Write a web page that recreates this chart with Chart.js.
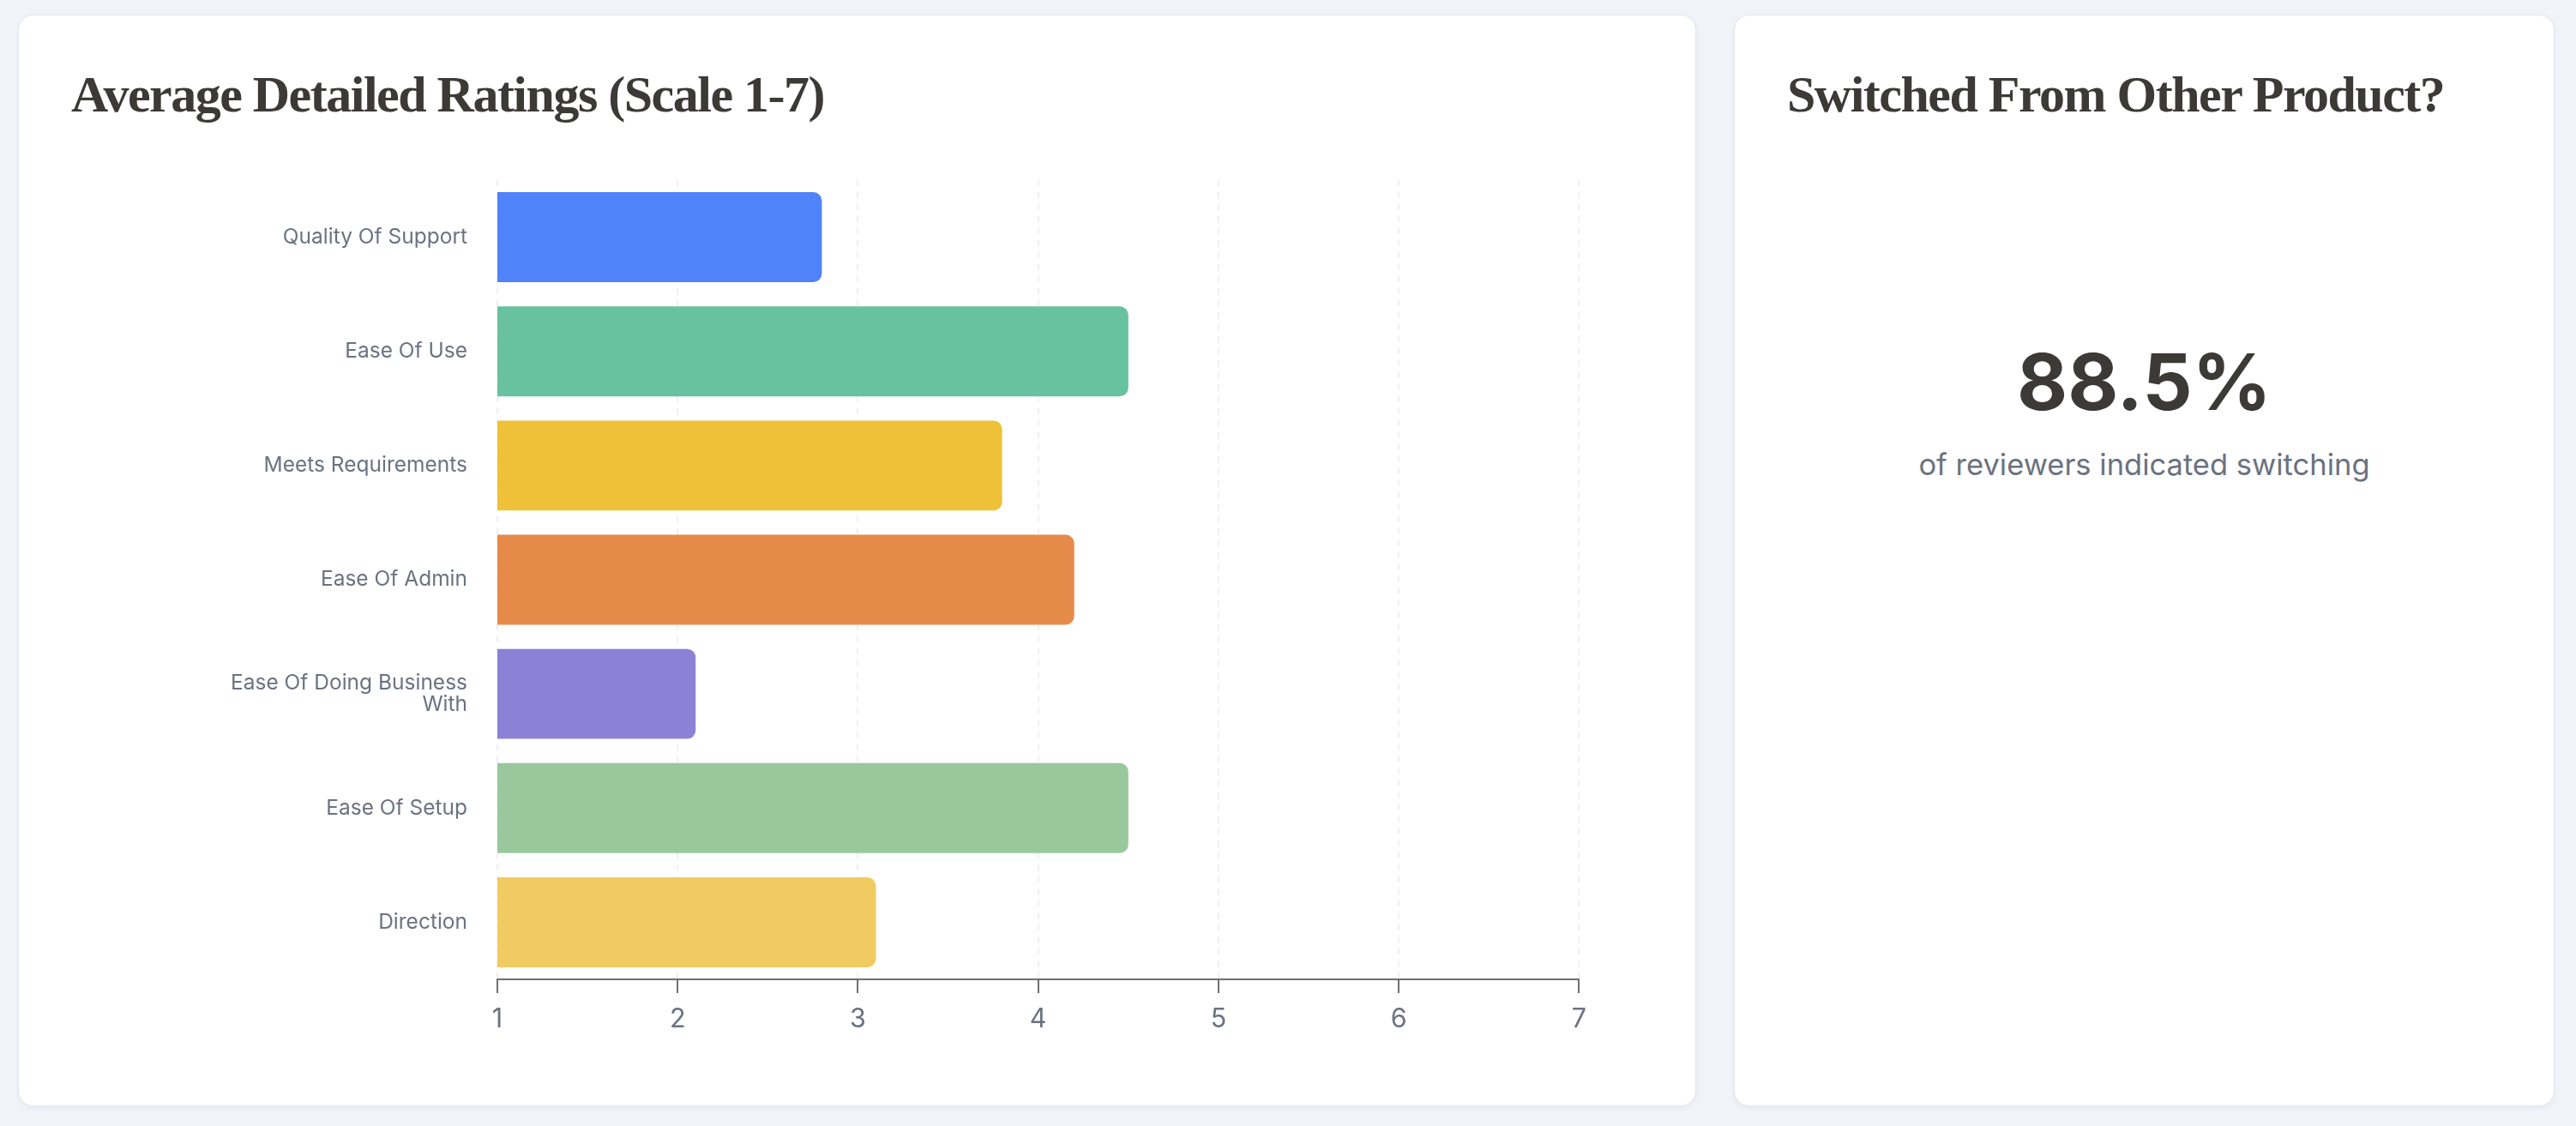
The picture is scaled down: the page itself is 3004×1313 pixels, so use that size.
<!DOCTYPE html>
<html>
<head>
<meta charset="utf-8">
<script src="https://cdn.jsdelivr.net/npm/chart.js@4"></script>
<style>
    html, body { margin: 0; padding: 0; }
    body {
        width: 3004px;
        height: 1313px;
        background: #f0f3f8;
        position: relative;
        overflow: hidden;
        font-family: Inter, sans-serif;
    }
    .card {
        position: absolute;
        top: 17px;
        height: 1273px;
        background: #ffffff;
        border: 1px solid #e4e7ec;
        border-radius: 18px;
        box-shadow: 0 2px 6px rgba(20, 30, 60, 0.05);
        box-sizing: border-box;
    }
    #cardRatings { left: 21px; width: 1957px; }
    #cardSwitched { left: 2022px; width: 957px; }
    .card-title {
        position: absolute;
        left: 61px;
        top: 62px;
        margin: 0;
        font-family: "Liberation Serif", "Times New Roman", serif;
        font-weight: bold;
        font-size: 60px;
        line-height: 60px;
        letter-spacing: -1.5px;
        color: #3b3a36;
        white-space: nowrap;
    }
    #chartBox {
        position: absolute;
        left: 83px;
        top: 150px;
        width: 1780px;
        height: 1052px;
    }
    .big-number {
        position: absolute;
        left: 0;
        width: 100%;
        top: 382px;
        text-align: center;
        font-family: Inter, sans-serif;
        font-weight: 700;
        font-size: 91px;
        line-height: 91px;
        color: #3b3a36;
    }
    .big-caption {
        position: absolute;
        left: 0;
        width: 100%;
        top: 507px;
        text-align: center;
        font-family: Inter, sans-serif;
        font-size: 34.5px;
        line-height: 34.5px;
        color: #6b7280;
    }
</style>
</head>
<body>
    <div class="card" id="cardRatings">
        <h2 class="card-title">Average Detailed Ratings (Scale 1-7)</h2>
    </div>
    <div id="chartBox"><canvas id="chartRatings"></canvas></div>

    <div class="card" id="cardSwitched">
        <h2 class="card-title">Switched From Other Product?</h2>
        <div class="big-number" id="switchedValue"></div>
        <div class="big-caption">of reviewers indicated switching</div>
    </div>

<script>
'use strict';

// rating categories (multi-line label is an array)
const categories = [
    'Quality Of Support',
    'Ease Of Use',
    'Meets Requirements',
    'Ease Of Admin',
    ['Ease Of Doing Business', 'With'],
    'Ease Of Setup',
    'Direction'
];
const ratings = [2.8, 4.5, 3.8, 4.2, 2.1, 4.5, 3.1];
const barColors = ['#5083fa', '#68c29f', '#efc139', '#e68a4a', '#8b82d6', '#99c89d', '#f0cb61'];
const scaleMin = 1;
const scaleMax = 7;
const switchedPercent = 88.5;

const labelGray = '#6b7280';
const axisGray = '#707070';

function chartRatings() {
    const data = {
        labels: categories,
        datasets: [
            {
                data: ratings,
                backgroundColor: barColors,
                borderWidth: 0,
                borderRadius: 10,
                borderSkipped: false,
                categoryPercentage: 0.8,
                barPercentage: 0.985
            }
        ]
    };
    const config = {
        type: 'bar',
        data,
        options: {
            indexAxis: 'y',
            responsive: true,
            maintainAspectRatio: false,
            animation: false,
            devicePixelRatio: 1,
            layout: { padding: { top: 60, right: 20, bottom: 0, left: 0 } },
            plugins: {
                legend: { display: false },
                tooltip: { enabled: false }
            },
            scales: {
                x: {
                    type: 'linear',
                    min: scaleMin,
                    max: scaleMax,
                    ticks: {
                        stepSize: 1,
                        padding: 13,
                        color: labelGray,
                        font: { family: 'Inter', size: 30.5 }
                    },
                    grid: {
                        color: 'rgba(0, 0, 0, 0.06)',
                        lineWidth: 2,
                        tickColor: axisGray,
                        tickLength: 16,
                        tickWidth: 2,
                        tickBorderDash: []
                    },
                    border: { display: true, color: axisGray, width: 2, dash: [7, 7] },
                    afterFit: function (scale) { scale.height = 60; }
                },
                y: {
                    ticks: {
                        padding: 35,
                        color: labelGray,
                        font: { family: 'Inter', size: 24.5, lineHeight: 1.04 }
                    },
                    grid: { display: false, drawTicks: false },
                    border: { display: false },
                    afterFit: function (scale) { scale.width = 497; }
                }
            }
        }
    };

    return new Chart(document.getElementById('chartRatings'), config);
}

document.getElementById('switchedValue').textContent = switchedPercent + '%';
chartRatings();
</script>
</body>
</html>
